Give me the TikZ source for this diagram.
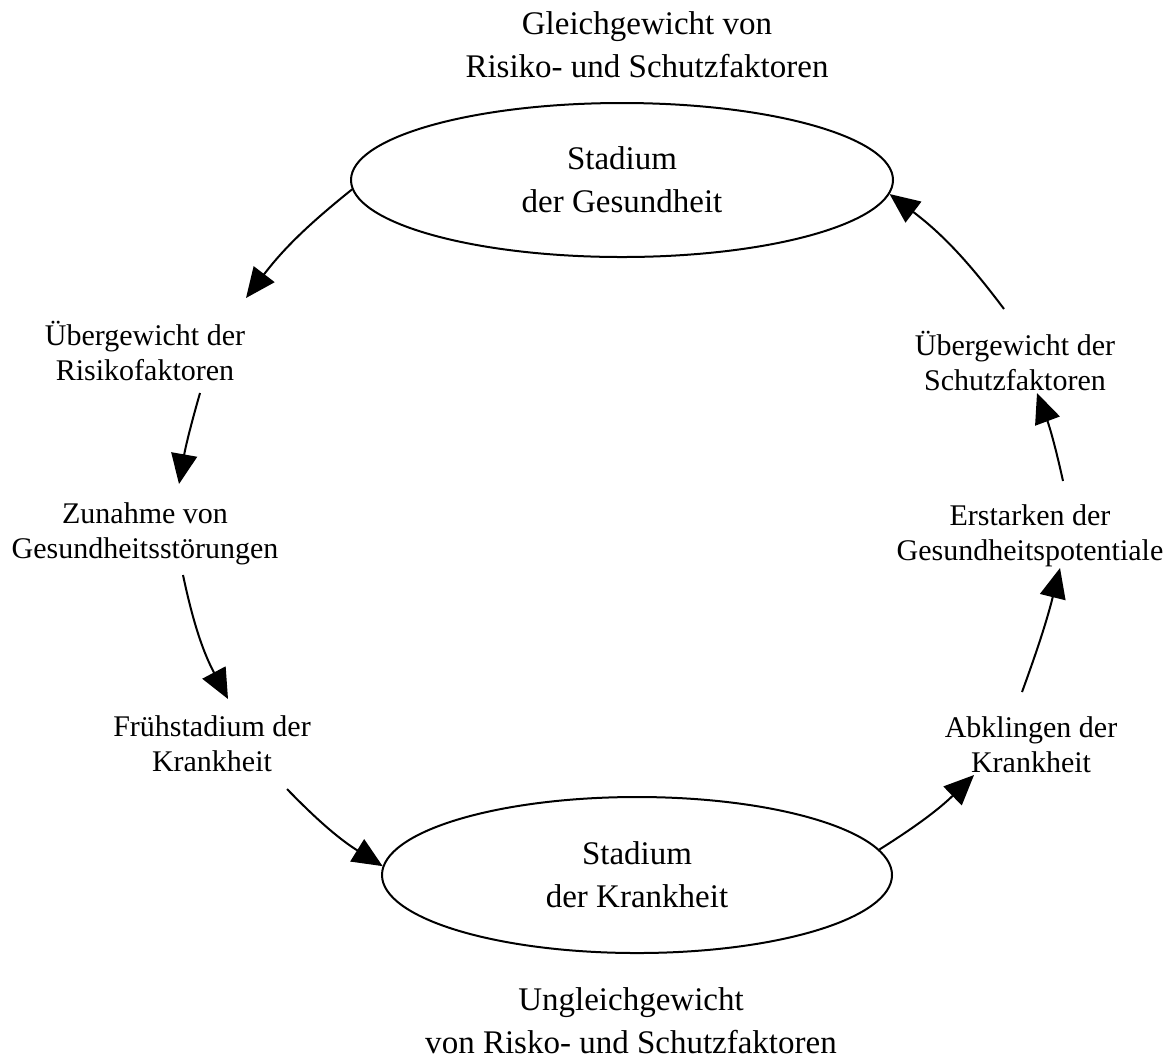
\documentclass[tikz,border=0pt]{standalone}
\usepackage{fontspec}
\setmainfont{Liberation Serif}
\usetikzlibrary{arrows.meta,shapes.geometric}
\begin{document}
\begin{tikzpicture}[x=0.5pt,y=-0.5pt,
  big/.style={font=\fontsize{16.5}{21.5}\selectfont, align=center, inner sep=0pt},
  lbl/.style={font=\fontsize{15}{17.5}\selectfont, align=center, inner sep=0pt},
  stage/.style={big, ellipse, draw, line width=1pt, minimum width=271pt, minimum height=77pt},
  flow/.style={line width=1pt, -{Triangle[length=15pt,width=13pt]}}]
\fill[white] (0,0) rectangle (1170,1062);
\useasboundingbox (0,0) rectangle (1170,1062);

% titles
\node[big] (top) at (647,45) {Gleichgewicht von\\Risiko- und Schutzfaktoren};
\node[big] (bot) at (631,1021) {Ungleichgewicht\\von Risko- und Schutzfaktoren};

% stages
\node[stage] (g) at (622,180) {Stadium\\der Gesundheit};
\node[stage, minimum width=255pt, minimum height=78pt] (k) at (637,875) {Stadium\\der Krankheit};

% labels
\node[lbl] (ur) at (145,351) {Übergewicht der\\Risikofaktoren};
\node[lbl] (zg) at (145,534) {Zunahme von\\Gesundheitsstörungen};
\node[lbl] (fk) at (212,744) {Frühstadium der\\Krankheit};
\node[lbl] (us) at (1015,361) {Übergewicht der\\Schutzfaktoren};
\node[lbl] (eg) at (1030,536) {Erstarken der\\Gesundheitspotentiale};
\node[lbl] (ak) at (1031,745) {Abklingen der\\Krankheit};

% arrows
\draw[flow] (g.182) to[bend right=7] ([shift={(101,-53)}]ur.center);
\draw[flow] ([shift={(55,42)}]ur.center) to[bend right=3] ([shift={(34,-50)}]zg.center);
\draw[flow] ([shift={(38,41)}]zg.center) to[bend right=8] ([shift={(16,-45)}]fk.center);
\draw[flow] ([shift={(75,45)}]fk.center) to[bend right=7] (k.178);
\draw[flow] (k.6) to[bend right=6] ([shift={(-57,30)}]ak.center);
\draw[flow] ([shift={(-9,-53)}]ak.center) to[bend right=3] ([shift={(30,32)}]eg.center);
\draw[flow] ([shift={(33,-55)}]eg.center) to[bend right=4] ([shift={(22,32)}]us.center);
\draw[flow] ([shift={(-11,-52)}]us.center) to[bend right=8] (g.357);
\end{tikzpicture}
\end{document}
